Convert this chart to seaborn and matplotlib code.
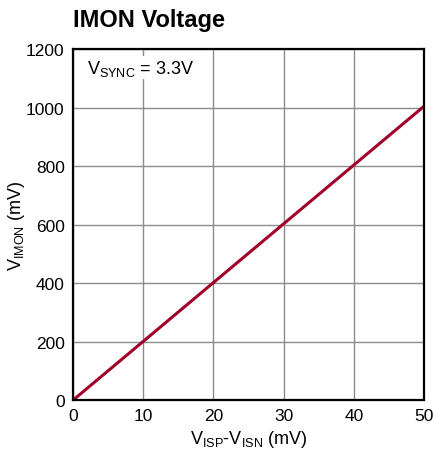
import seaborn as sns
import matplotlib.pyplot as plt
import pandas as pd

# data
v_sense = [0, 50]          # VISP-VISN (mV)
v_imon = [0, 1005]         # VIMON (mV)
x_ticks = [0, 10, 20, 30, 40, 50]
y_ticks = [0, 200, 400, 600, 800, 1000, 1200]

sns.set_style("white")
plt.rcParams['font.family'] = ['Liberation Sans', 'DejaVu Sans']
plt.rcParams['mathtext.fontset'] = 'custom'
plt.rcParams['mathtext.rm'] = 'Liberation Sans'
plt.rcParams['text.color'] = 'black'
plt.rcParams['axes.labelcolor'] = 'black'
plt.rcParams['xtick.color'] = 'black'
plt.rcParams['ytick.color'] = 'black'

df = pd.DataFrame({"x": v_sense, "y": v_imon})

fig = plt.figure(figsize=(4.35, 4.6), dpi=100)
ax = fig.add_axes([0.168, 0.128, 0.807, 0.763])

sns.lineplot(data=df, x="x", y="y", ax=ax, color="#A0002A", linewidth=2.2)

ax.set_xlim(0, 50)
ax.set_ylim(0, 1200)
ax.set_xticks(x_ticks)
ax.set_yticks(y_ticks)
ax.tick_params(labelsize=12.5, length=0, pad=6)
ax.grid(True, color="#8c8c8c", linewidth=1)
ax.set_axisbelow(True)
for s in ax.spines.values():
    s.set_color("black")
    s.set_linewidth(1.6)

ax.set_xlabel(r"V$_{\mathrm{ISP}}$-V$_{\mathrm{ISN}}$ (mV)", fontsize=13, labelpad=3)
ax.set_ylabel(r"V$_{\mathrm{IMON}}$ (mV)", fontsize=13)
ax.yaxis.set_label_coords(-0.13, 0.5)

ax.text(2, 1170, r"V$_{\mathrm{SYNC}}$ = 3.3V", fontsize=13, va="top", ha="left",
        bbox=dict(facecolor="white", edgecolor="none", pad=1))

fig.text(0.168, 0.955, "IMON Voltage", fontsize=17, fontweight="bold", ha="left", va="center")

fig.savefig("out.png", dpi=100)
